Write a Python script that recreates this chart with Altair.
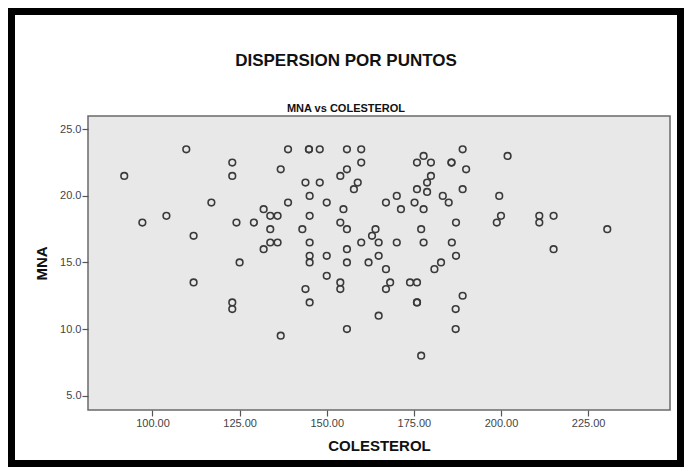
import altair as alt
import pandas as pd

# ---- data ----
colesterol = [
    91.9, 97.1, 104.0, 109.7, 111.8, 111.8, 116.9, 122.9, 122.9, 122.9,
    122.9, 124.1, 125.0, 129.1, 131.9, 131.9, 133.8, 135.9, 133.8, 133.8,
    135.9, 136.8, 136.8, 138.9, 138.9, 143.0, 143.9, 143.9, 144.9, 144.9,
    145.1, 145.1, 145.1, 145.1, 145.1, 145.1, 148.0, 148.0, 150.0, 150.0,
    150.0, 153.9, 153.9, 153.9, 153.9, 154.8, 155.8, 155.8, 155.8, 155.8,
    155.8, 155.8, 157.8, 158.9, 159.9, 159.9, 159.9, 162.0, 163.0, 164.0,
    164.9, 164.9, 164.9, 167.0, 167.0, 167.0, 168.2, 170.1, 170.1, 171.3,
    173.9, 175.9, 175.2, 175.9, 175.9, 175.9, 175.9, 177.1, 177.1, 177.8,
    177.8, 177.8, 178.8, 178.8, 179.9, 179.9, 180.9, 182.8, 183.3, 185.0,
    185.8, 185.8, 185.9, 187.1, 187.1, 187.0, 187.0, 189.0, 189.0, 189.0,
    190.0, 199.5, 200.0, 198.8, 201.9, 211.0, 211.0, 215.1, 215.1, 230.5,
]
mna = [
    21.5, 18.0, 18.5, 23.5, 17.0, 13.5, 19.5, 22.5, 21.5, 12.0,
    11.5, 18.0, 15.0, 18.0, 19.0, 16.0, 18.5, 18.5, 17.5, 16.5,
    16.5, 22.0, 9.5, 23.5, 19.5, 17.5, 21.0, 13.0, 23.5, 23.5,
    20.0, 18.5, 16.5, 15.5, 15.0, 12.0, 23.5, 21.0, 19.5, 15.5,
    14.0, 21.5, 18.0, 13.5, 13.0, 19.0, 23.5, 22.0, 17.5, 16.0,
    15.0, 10.0, 20.5, 21.0, 23.5, 22.5, 16.5, 15.0, 17.0, 17.5,
    16.5, 15.5, 11.0, 19.5, 14.5, 13.0, 13.5, 20.0, 16.5, 19.0,
    13.5, 13.5, 19.5, 22.5, 20.5, 12.0, 12.0, 17.5, 8.0, 23.0,
    19.0, 16.5, 21.0, 20.3, 22.5, 21.5, 14.5, 15.0, 20.0, 19.5,
    22.5, 22.5, 16.5, 18.0, 15.5, 11.5, 10.0, 23.5, 20.5, 12.5,
    22.0, 20.0, 18.5, 18.0, 23.0, 18.5, 18.0, 18.5, 16.0, 17.5,
]
x_ticks = [100, 125, 150, 175, 200, 225]
y_ticks = [5, 10, 15, 20, 25]
main_title = ["DISPERSION POR PUNTOS"]
sub_title = ["MNA vs COLESTEROL"]

df = pd.DataFrame({"COLESTEROL": colesterol, "MNA": mna})

FONT = "Liberation Sans"
W, H = 582, 294
PAD = {"left": 80, "top": 108, "right": 14, "bottom": 57}

points = alt.Chart(df).mark_point(
    shape="circle", filled=False, size=44, strokeWidth=1.6, color="#3a3a3a", opacity=1
).encode(
    x=alt.X("COLESTEROL:Q",
            scale=alt.Scale(domain=[81.5, 248.5], nice=False, zero=False),
            axis=alt.Axis(values=x_ticks, format=".2f", title="COLESTEROL")),
    y=alt.Y("MNA:Q",
            scale=alt.Scale(domain=[3.92, 26.0], nice=False, zero=False),
            axis=alt.Axis(values=y_ticks, format=".1f", title="MNA")),
)

t_main = alt.Chart(alt.Data(values=[{"t": s} for s in main_title])).mark_text(
    font=FONT, fontSize=17, fontWeight="bold", color="#111", align="center", baseline="alphabetic"
).encode(text="t:N", x=alt.value(258), y=alt.value(-50))

t_sub = alt.Chart(alt.Data(values=[{"t": s} for s in sub_title])).mark_text(
    font=FONT, fontSize=11, fontWeight="bold", color="#111", align="center", baseline="alphabetic"
).encode(text="t:N", x=alt.value(258), y=alt.value(-4))

frame = alt.Chart(alt.Data(values=[{"f": 1}])).mark_rect(
    fill=None, stroke="black", strokeWidth=14
).encode(
    x=alt.value(-PAD["left"]), x2=alt.value(W + PAD["right"]),
    y=alt.value(-PAD["top"]), y2=alt.value(H + PAD["bottom"]),
)

chart = alt.layer(points, t_main, t_sub, frame).properties(
    width=W, height=H, padding=PAD,
    autosize=alt.AutoSizeParams(type="none"),
    background="white",
).configure_view(
    fill="#e8e8e8", stroke="#6a6a6a", strokeWidth=1.5
).configure_axis(
    domain=False, grid=False, ticks=True, tickSize=6, tickColor="#555", tickWidth=1.2,
    labelFont=FONT, labelFontSize=11, labelColor="#444", labelPadding=1,
    titleFont=FONT, titleFontSize=15, titleFontWeight="bold", titleColor="#111",
    titlePadding=10,
)

chart.save("out.html", embed_options={"renderer": "svg", "actions": False})
